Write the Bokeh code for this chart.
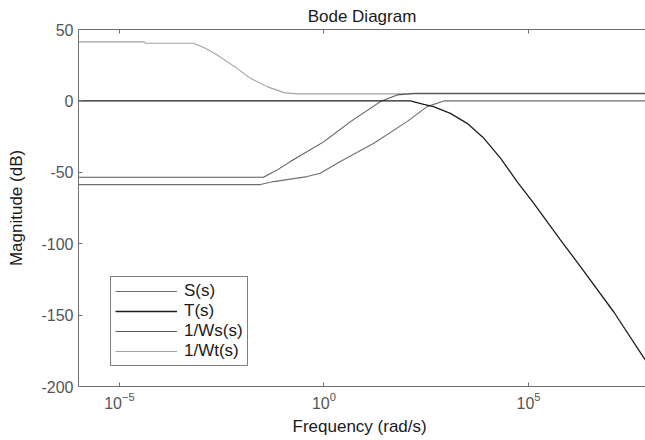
import numpy as np
from bokeh.plotting import figure
from bokeh.models import FixedTicker, LogAxis, Legend, LegendItem, Range1d, CustomJSTickFormatter
from bokeh.embed import file_html
from bokeh.resources import INLINE

# --- data (log10 of frequency in rad/s, magnitude in dB)
s_logw = [-6.0, -1.55, -1.23, -0.41, -0.09, 0.40, 1.22, 2.03, 2.52, 2.93, 7.9]
s_db = [-58.6, -58.6, -56.5, -53.0, -50.7, -42.5, -29.7, -14.5, -4.0, 0.0, 0.0]

t_logw = [-6.0, 2.11, 2.44, 2.68, 3.09, 3.50, 3.91, 4.32, 4.72, 5.13, 5.78, 6.27, 7.09, 7.82, 7.9]
t_db = [0.0, 0.0, -2.4, -4.0, -8.7, -15.7, -26.2, -40.2, -56.5, -71.7, -97.3, -116.0, -148.0, -180.0, -183.0]

ws_logw = [-6.0, -1.48, -1.14, -0.82, 0.0, 0.65, 1.38, 1.79, 2.2, 7.9]
ws_db = [-53.5, -53.5, -48.3, -42.5, -28.5, -14.5, -0.5, 4.2, 5.3, 5.3]

wt_logw = [-6.0, -4.4, -4.35, -3.19, -2.9, -2.61, -2.12, -1.80, -1.39, -0.98, -0.66, 7.9]
wt_db = [41.3, 41.3, 40.4, 40.4, 36.8, 32.2, 22.8, 15.8, 10.0, 5.8, 4.9, 4.9]

series_names = ["S(s)", "T(s)", "1/Ws(s)", "1/Wt(s)"]
x_ticks_exp = [-5, 0, 5]
y_ticks = [50, 0, -50, -100, -150, -200]

FONT = "Liberation Sans"
AXIS_COL = "#707070"

p = figure(
    output_backend="svg", toolbar_location=None,
    x_axis_type="log",
    frame_width=567, frame_height=357,
    min_border_left=78, min_border_top=29, min_border_bottom=54, min_border_right=0,
    x_range=Range1d(10 ** -6.0, 10 ** 7.86), y_range=Range1d(-200, 50),
    title="Bode Diagram",
    background_fill_color="white", border_fill_color="white",
)
p.outline_line_color = None
p.grid.visible = False

p.title.align = "center"
p.title.text_font = FONT
p.title.text_font_size = "17px"
p.title.text_font_style = "normal"
p.title.text_color = "#1a1a1a"
p.title.standoff = 0

xt = FixedTicker(ticks=[10.0 ** e for e in x_ticks_exp], minor_ticks=[])
yt = FixedTicker(ticks=y_ticks, minor_ticks=[])

for ax in p.xaxis:
    ax.ticker = xt
for ax in p.yaxis:
    ax.ticker = yt
    ax.formatter = CustomJSTickFormatter(code="return tick.toString();")

for ax in list(p.xaxis) + list(p.yaxis):
    ax.axis_line_color = AXIS_COL
    ax.major_tick_line_color = AXIS_COL
    ax.major_tick_in = 4
    ax.major_tick_out = 0
    ax.minor_tick_line_color = None
    ax.major_label_text_font = FONT
    ax.major_label_text_font_size = "16px"
    ax.major_label_text_color = "#555555"
    ax.axis_label_text_font = FONT
    ax.axis_label_text_font_size = "17px"
    ax.axis_label_text_font_style = "normal"
    ax.axis_label_text_color = "#1a1a1a"

p.xaxis.axis_label = "Frequency  (rad/s)"
p.yaxis.axis_label = "Magnitude (dB)"
p.xaxis.major_label_standoff = 5
p.xaxis.axis_label_standoff = 5
p.yaxis.major_label_standoff = 5
p.yaxis.axis_label_standoff = 12

top = LogAxis(ticker=xt, axis_line_color=AXIS_COL, major_tick_line_color=AXIS_COL,
              major_tick_in=4, major_tick_out=0, minor_tick_line_color=None,
              formatter=CustomJSTickFormatter(code="return ' ';"),
              major_label_text_font_size="1px", major_label_standoff=0)
p.add_layout(top, "above")

def fx(lw):
    return 10.0 ** np.asarray(lw, dtype=float)

r_wt = p.line(fx(wt_logw), wt_db, line_color="#a3a3a3", line_width=1.1)
r_ws = p.line(fx(ws_logw), ws_db, line_color="#5a5a5a", line_width=1.1)
r_s = p.line(fx(s_logw), s_db, line_color="#6e6e6e", line_width=1.1)
r_t = p.line(fx(t_logw), t_db, line_color="#1e1e1e", line_width=1.3)

legend = Legend(
    items=[LegendItem(label=series_names[0], renderers=[r_s]),
           LegendItem(label=series_names[1], renderers=[r_t]),
           LegendItem(label=series_names[2], renderers=[r_ws]),
           LegendItem(label=series_names[3], renderers=[r_wt])],
    location=(32, 20),
    border_line_color="black", border_line_width=1.3,
    background_fill_color="white", background_fill_alpha=1,
    label_text_font=FONT, label_text_font_size="17px", label_text_color="#1a1a1a",
    glyph_width=62, glyph_height=18, label_height=18, label_standoff=7,
    spacing=0, padding=4, margin=0,
)
p.add_layout(legend, "center")

open("out.html", "w").write(file_html(p, INLINE))
